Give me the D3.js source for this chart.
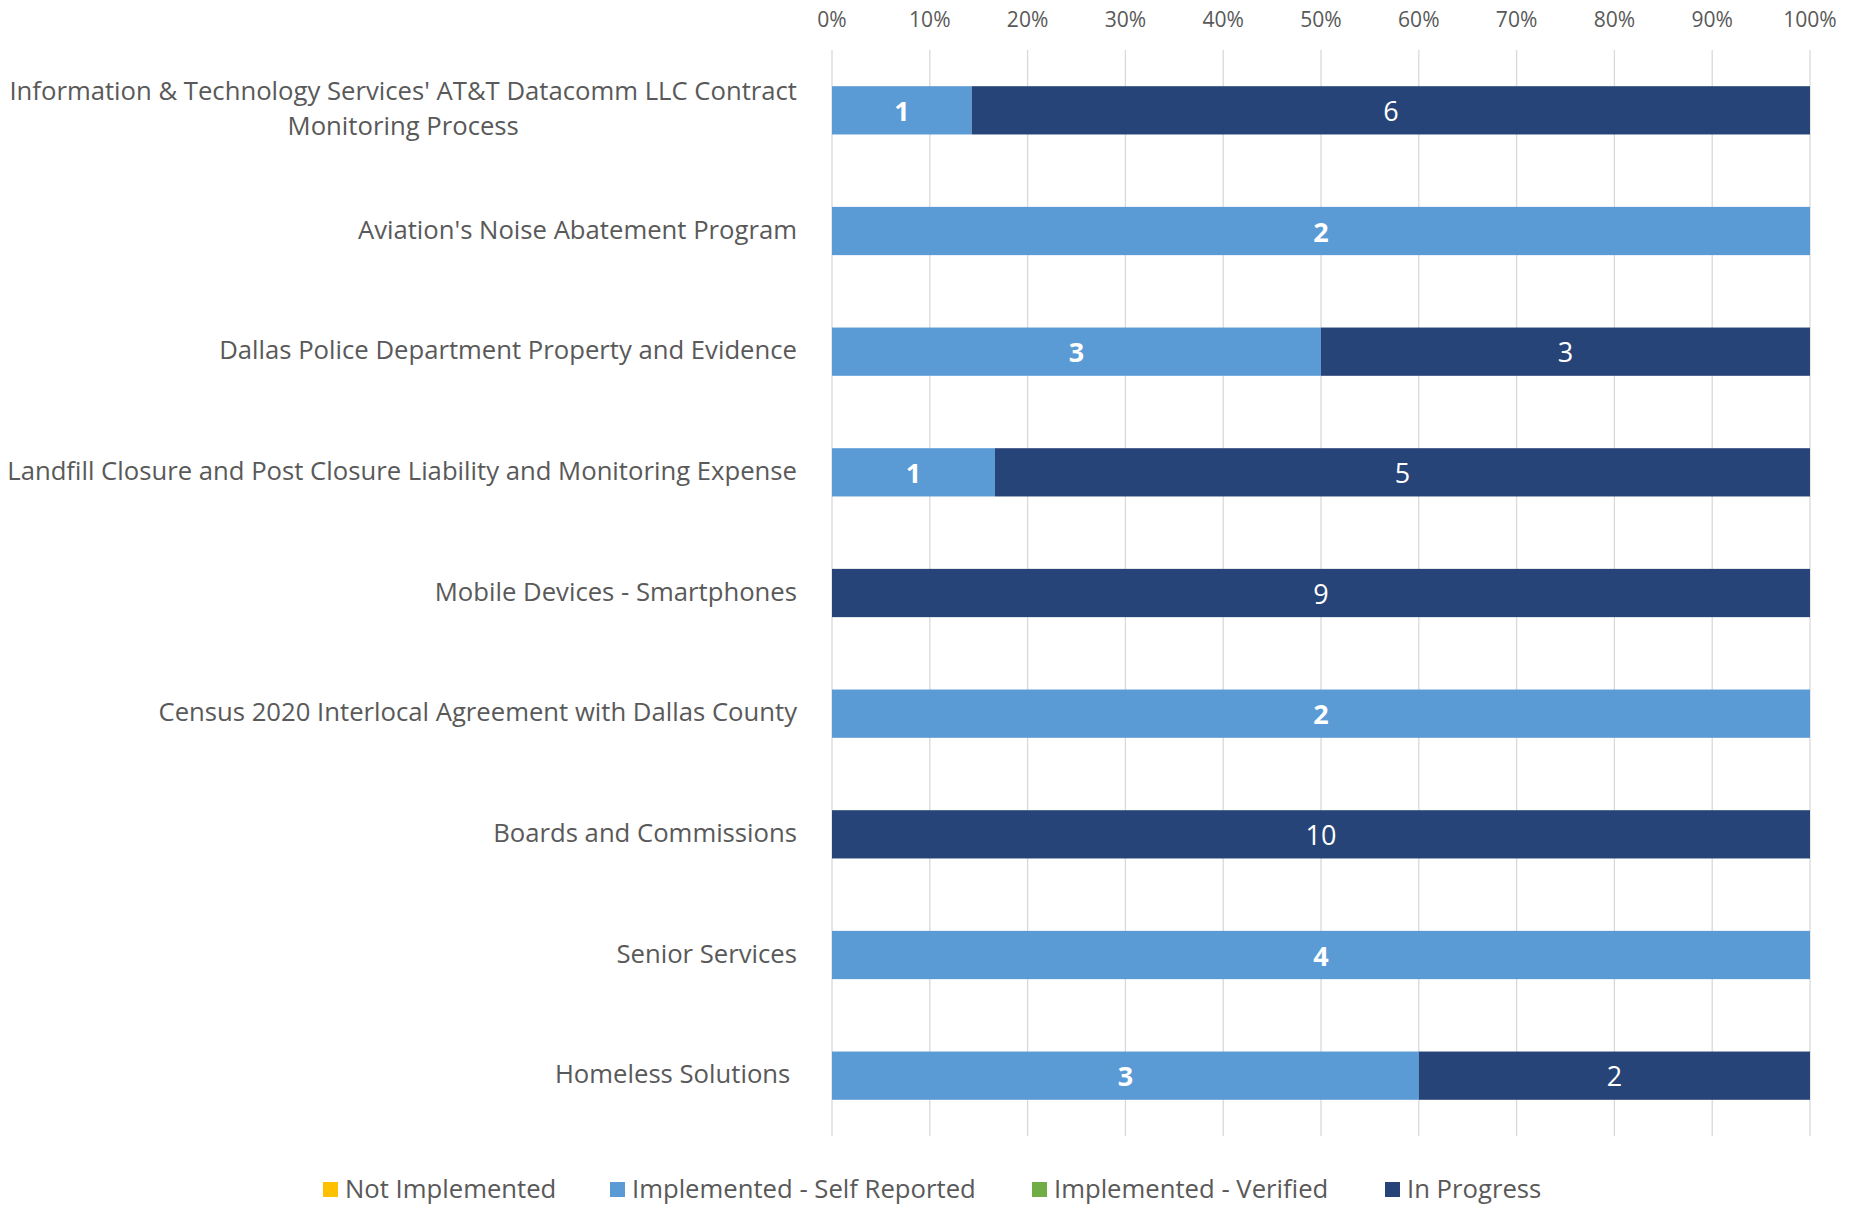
<!DOCTYPE html>
<html>
<head>
<script src="https://d3js.org/d3.v7.min.js"></script>
<style>
  body { margin: 0; background: #fff; }
  svg text { font-family: "Open Sans", sans-serif; white-space: pre; }
</style>
</head>
<body>
<div id="chart"></div>
<script>
// categories, top to bottom
const categories = [
  "Information & Technology Services' AT&T Datacomm LLC Contract Monitoring Process",
  "Aviation's Noise Abatement Program",
  "Dallas Police Department Property and Evidence",
  "Landfill Closure and Post Closure Liability and Monitoring Expense",
  "Mobile Devices - Smartphones",
  "Census 2020 Interlocal Agreement with Dallas County",
  "Boards and Commissions",
  "Senior Services",
  "Homeless Solutions "
];
const seriesNames = ["Not Implemented", "Implemented - Self Reported", "Implemented - Verified", "In Progress"];
const notImplemented = [0, 0, 0, 0, 0, 0, 0, 0, 0];
const selfReported   = [1, 2, 3, 1, 0, 2, 0, 4, 3];
const verified       = [0, 0, 0, 0, 0, 0, 0, 0, 0];
const inProgress     = [6, 0, 3, 5, 9, 0, 10, 0, 2];
const tickValues = [0, .1, .2, .3, .4, .5, .6, .7, .8, .9, 1];

const colors = ["#FFC000", "#5B9BD5", "#70AD47", "#264478"];
const width = 1852, height = 1206;

const svg = d3.select("#chart").append("svg")
  .attr("width", width).attr("height", height);

// fit font size so the long label roughly matches the original width
const probe = svg.append("text").attr("font-size", 100)
  .text("Information & Technology Services' AT&T Datacomm LLC Contract");
const fs = Math.min(26, 100 * 788 / probe.node().getComputedTextLength());
probe.remove();

const x = d3.scaleLinear().domain([0, 1]).range([832, 1810]);
const y = d3.scaleBand().domain(categories).range([50, 1136])
  .paddingInner(0.6).paddingOuter(0.3);

// gridlines
svg.append("g").selectAll("line").data(tickValues).join("line")
  .attr("x1", d => x(d)).attr("x2", d => x(d))
  .attr("y1", 50).attr("y2", 1136)
  .attr("stroke", "#d9d9d9").attr("stroke-width", 1.3);

// top axis labels
svg.append("g").selectAll("text").data(tickValues).join("text")
  .attr("x", d => x(d)).attr("y", 18)
  .attr("dominant-baseline", "central")
  .attr("text-anchor", "middle")
  .attr("font-size", fs * 0.82).attr("fill", "#595959")
  .text(d3.format(".0%"));

// stacked data
const rows = categories.map((c, i) => {
  const vals = [notImplemented[i], selfReported[i], verified[i], inProgress[i]];
  const total = d3.sum(vals);
  let acc = 0;
  return vals.map((v, k) => {
    const seg = { cat: c, k, v, x0: acc / total, x1: (acc + v) / total };
    acc += v;
    return seg;
  });
});
const segs = rows.flat().filter(d => d.v > 0);

svg.append("g").selectAll("rect").data(segs).join("rect")
  .attr("x", d => x(d.x0)).attr("width", d => x(d.x1) - x(d.x0))
  .attr("y", d => y(d.cat)).attr("height", y.bandwidth())
  .attr("fill", d => colors[d.k]);

svg.append("g").selectAll("text").data(segs).join("text")
  .attr("x", d => (x(d.x0) + x(d.x1)) / 2)
  .attr("y", d => y(d.cat) + y.bandwidth() / 2)
  .attr("dominant-baseline", "central").attr("text-anchor", "middle")
  .attr("font-size", fs * 1.05).attr("fill", "#fff")
  .attr("font-weight", d => d.k === 1 ? "bold" : "normal")
  .text(d => d.v);

// category labels (wrap, block right aligned, lines centred)
const labelRight = 797, maxW = 800, lineH = 35;
const lg = svg.append("g");
categories.forEach(c => {
  const t = lg.append("text").attr("font-size", fs).attr("fill", "#595959");
  const words = c.split(" ");
  let lines = [], cur = "";
  words.forEach(w => {
    const test = cur ? cur + " " + w : w;
    t.text(test);
    if (t.node().getComputedTextLength() > maxW && cur) { lines.push(cur); cur = w; }
    else cur = test;
  });
  lines.push(cur);
  const widths = lines.map(l => { t.text(l); return t.node().getComputedTextLength(); });
  t.text(null);
  const wmax = d3.max(widths);
  const cx = labelRight - wmax / 2;
  const cy = y(c) + y.bandwidth() / 2 - 2 - (lines.length - 1) * lineH / 2;
  lines.forEach((l, i) => {
    t.append("tspan").attr("x", cx).attr("y", cy + i * lineH)
      .attr("text-anchor", "middle").attr("dominant-baseline", "central").text(l);
  });
});

// legend
const legendX = [323, 610, 1032, 1385];
const leg = svg.append("g").selectAll("g").data(seriesNames).join("g")
  .attr("transform", (d, i) => `translate(${legendX[i]},1188)`);
leg.append("rect").attr("x", 0).attr("y", -6).attr("width", 15).attr("height", 15)
  .attr("fill", (d, i) => colors[i]);
leg.append("text").attr("x", 22).attr("y", 0)
  .attr("dominant-baseline", "central").attr("font-size", fs).attr("fill", "#595959")
  .text(d => d);
</script>
</body>
</html>
